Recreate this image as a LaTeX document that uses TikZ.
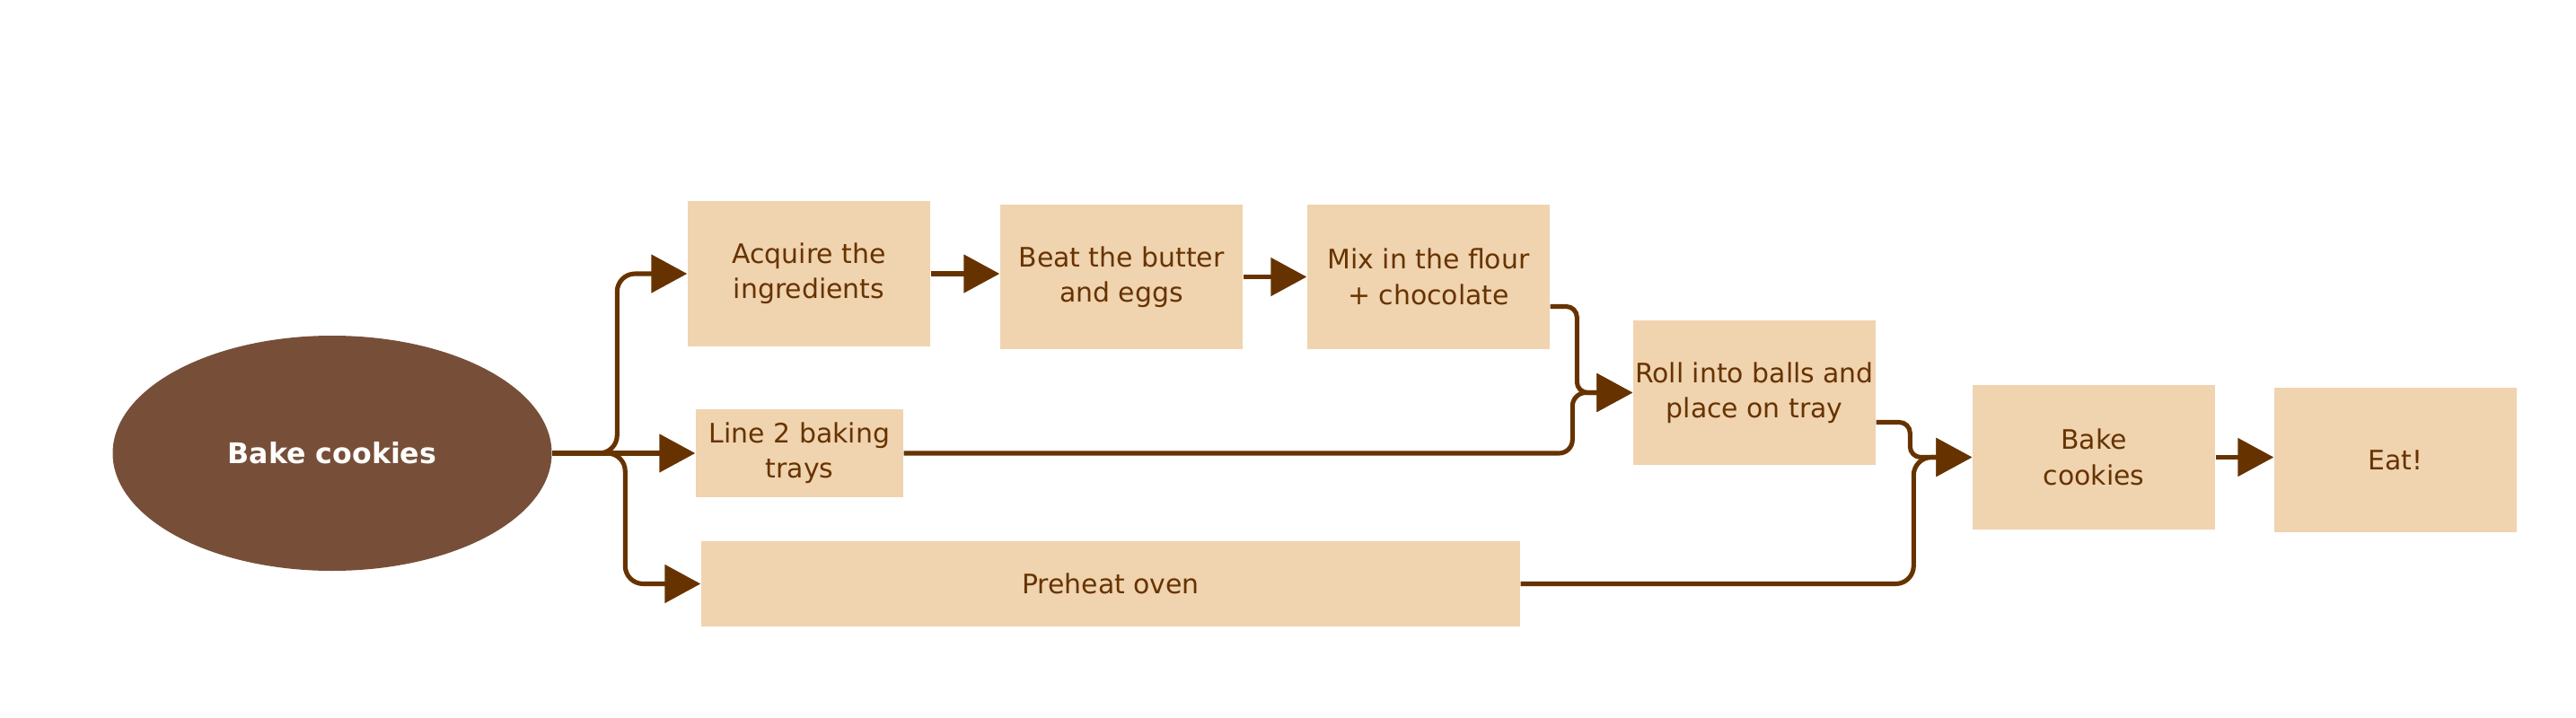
\documentclass[tikz,border=0pt]{standalone}
\usepackage{fontspec}
\setmainfont{DejaVu Sans}
\usepackage{tikz}
\usetikzlibrary{shapes.geometric, arrows.meta, positioning}

\definecolor{dough}{HTML}{F0D3AF}
\definecolor{cocoa}{HTML}{774F38}
\definecolor{choco}{HTML}{663300}

\begin{document}
\begin{tikzpicture}[
    stepbox/.style={rectangle, fill=dough, text=choco, align=center, inner sep=0pt,
        minimum width=2.7cm, minimum height=1.61cm, font=\fontsize{8.5}{11.2}\selectfont},
    flow/.style={draw=choco, line width=1.45pt, rounded corners=2mm,
        -{Triangle[length=0.4cm, width=0.42cm]}}
]
\useasboundingbox (0,0) rectangle (28.69,7.99);

% Start
\node[ellipse, fill=cocoa, text=white, minimum width=4.89cm, minimum height=2.62cm,
    inner sep=0pt, font=\fontsize{9}{11}\selectfont\bfseries] (start) at (3.70,2.94) {Bake cookies};

% Top row
\node[stepbox, minimum height=1.62cm] (acquire) at (9.01,4.94) {Acquire the\\ingredients};
\node[stepbox] (beat) at (12.49,4.905) {Beat the butter\\and eggs};
\node[stepbox] (mix) at (15.91,4.905) {Mix in the flour\\+ chocolate};

% Middle and bottom rows
\node[stepbox, minimum width=2.31cm, minimum height=0.98cm] (trays) at (8.905,2.94) {Line 2 baking\\trays};
\node[stepbox, minimum width=9.12cm, minimum height=0.95cm] (oven) at (12.37,1.485) {Preheat oven};

% Right side
\node[stepbox] (roll) at (19.54,3.615) {Roll into balls and\\place on tray};
\node[stepbox] (bake) at (23.32,2.895) {Bake\\cookies};
\node[stepbox] (eat) at (26.68,2.865) {Eat!};

% Arrows
\draw[flow] (start.east) -| ([xshift=-7.8mm]acquire.west) -- (acquire.west);
\draw[flow] (start.east) -- (trays.west);
\draw[flow] (start.east) -| ([xshift=-8.4mm]oven.west) -- (oven.west);

\draw[flow] (acquire.east) -- (acquire.east -| beat.west);
\draw[flow] (beat.east) -- (beat.east -| mix.west);

\draw[flow, rounded corners=1.2mm] ([yshift=-3.3mm]mix.east) -| ([xshift=-6.2mm]roll.west) -- (roll.west);
\draw[flow, rounded corners=1.5mm] (trays.east) -| ([xshift=-6.7mm]roll.west) -- (roll.west);

\draw[flow, rounded corners=1.2mm] ([yshift=-3.3mm]roll.east) -| ([xshift=-6.9mm]bake.west) -- (bake.west);
\draw[flow] (oven.east) -| ([xshift=-6.5mm]bake.west) -- (bake.west);

\draw[flow] (bake.east) -- (bake.east -| eat.west);

\end{tikzpicture}
\end{document}
